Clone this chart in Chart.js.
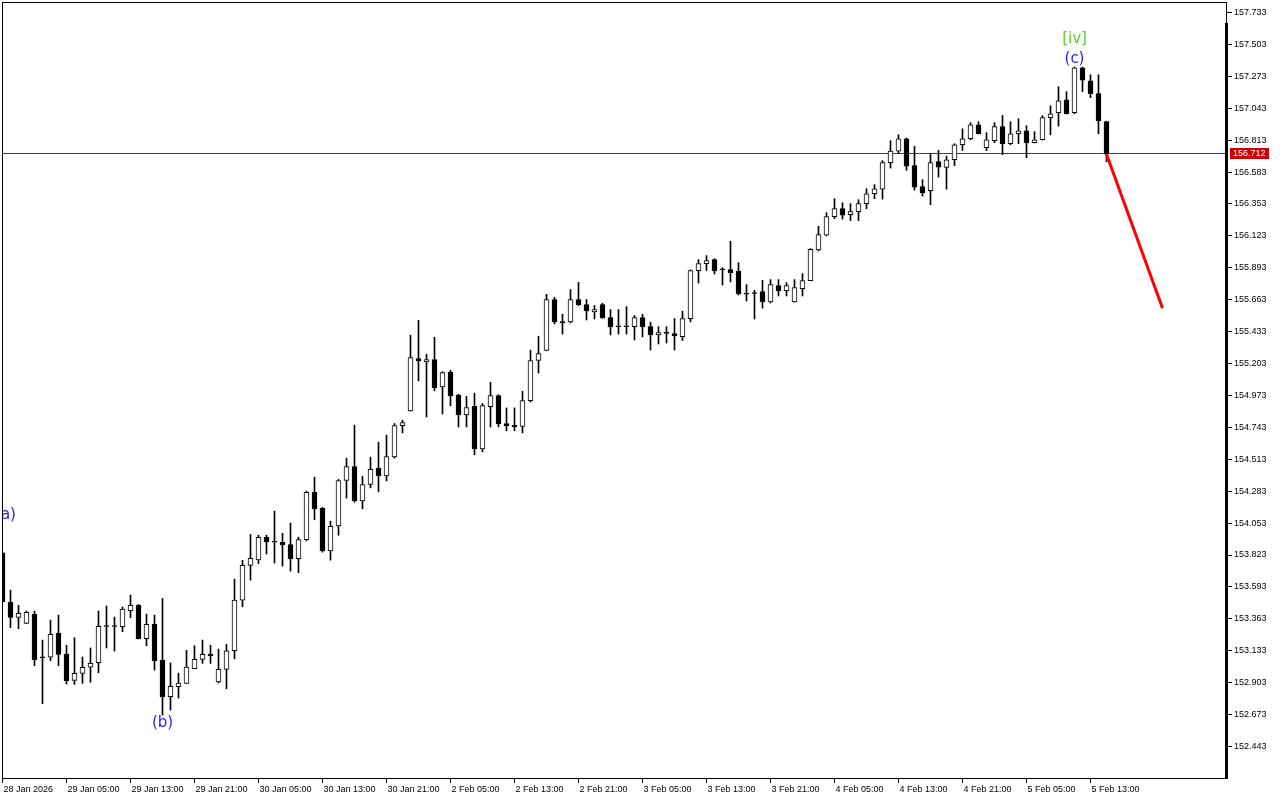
<!DOCTYPE html>
<html><head><meta charset="utf-8">
<script src="https://cdn.jsdelivr.net/npm/chart.js@4.4.1/dist/chart.umd.min.js"></script>
<style>html,body{margin:0;padding:0;background:#fff;overflow:hidden}canvas{display:block}</style>
</head><body>
<canvas id="c" width="1280" height="800"></canvas>
<script>
// ---- tick labels ----
const timeLabels = ['28 Jan 2026','29 Jan 05:00','29 Jan 13:00','29 Jan 21:00','30 Jan 05:00','30 Jan 13:00','30 Jan 21:00','2 Feb 05:00','2 Feb 13:00','2 Feb 21:00','3 Feb 05:00','3 Feb 13:00','3 Feb 21:00','4 Feb 05:00','4 Feb 13:00','4 Feb 21:00','5 Feb 05:00','5 Feb 13:00'];
const timeTickBars = [0,8,16,24,32,40,48,56,64,72,80,88,96,104,112,120,128,136];
const priceTicks = [152.443,152.673,152.903,153.133,153.363,153.593,153.823,154.053,154.283,154.513,154.743,154.973,155.203,155.433,155.663,155.893,156.123,156.353,156.583,156.813,157.043,157.273,157.503,157.733];

// ---- H1 candles (bar index 0..138) ----
const opens = [153.839,153.484,153.374,153.330,153.395,153.085,153.086,153.261,153.109,152.920,
152.970,153.014,153.047,153.310,153.310,153.306,153.421,153.460,153.220,153.325,
153.066,152.802,152.874,152.898,153.004,153.071,153.109,152.908,152.999,153.133,
153.498,153.748,153.788,153.950,153.917,153.914,153.899,153.796,153.933,154.274,
154.159,153.853,154.033,154.360,154.461,154.213,154.331,154.447,154.393,154.530,
154.756,154.862,155.239,155.214,155.232,155.034,155.140,154.975,154.833,154.895,
154.588,154.893,154.972,154.771,154.759,154.749,154.936,155.225,155.297,155.664,
155.505,155.503,155.664,155.628,155.575,155.628,155.534,155.470,155.470,155.469,
155.534,155.469,155.409,155.422,155.419,155.397,155.527,155.873,155.923,155.952,
155.881,155.880,155.868,155.705,155.710,155.722,155.647,155.765,155.729,155.647,
155.743,155.801,156.021,156.129,156.262,156.319,156.276,156.298,156.355,156.427,
156.460,156.651,156.734,156.823,156.629,156.478,156.449,156.658,156.617,156.672,
156.780,156.823,156.924,156.759,156.809,156.910,156.787,156.859,156.881,156.795,
156.816,156.975,157.011,157.104,157.011,157.335,157.241,157.148,156.946];
const highs = [153.844,153.570,153.460,153.419,153.419,153.210,153.354,153.390,153.172,153.227,
153.088,153.153,153.419,153.455,153.376,153.448,153.534,153.466,153.397,153.390,
153.510,153.045,152.972,153.136,153.169,153.210,153.172,153.145,153.179,153.649,
153.784,153.971,153.966,153.966,154.139,153.979,154.053,153.952,154.283,154.384,
154.166,154.067,154.368,154.521,154.759,154.391,154.528,154.636,154.687,154.771,
154.795,155.407,155.515,155.270,155.392,155.144,155.155,154.982,154.967,154.989,
154.915,155.068,154.978,154.883,154.883,155.003,155.299,155.400,155.702,155.680,
155.558,155.736,155.788,155.664,155.621,155.637,155.592,155.592,155.613,155.549,
155.558,155.500,155.469,155.469,155.527,155.580,155.878,155.952,155.981,155.959,
155.894,156.084,155.930,155.772,155.731,155.803,155.808,155.808,155.786,155.808,
155.851,156.031,156.192,156.290,156.391,156.362,156.355,156.384,156.463,156.492,
156.665,156.809,156.852,156.829,156.768,156.528,156.715,156.739,156.698,156.787,
156.895,156.939,156.946,156.867,156.939,156.991,156.946,156.967,156.917,156.874,
156.989,157.061,157.198,157.162,157.340,157.340,157.284,157.284,156.950];
const lows = [153.484,153.299,153.292,153.330,153.025,152.751,153.061,153.025,152.893,152.891,
152.898,152.906,152.975,153.153,153.131,153.270,153.371,153.218,153.169,152.994,
152.670,152.706,152.792,152.898,153.004,153.042,153.042,152.900,152.859,153.075,
153.450,153.642,153.760,153.830,153.765,153.743,153.707,153.695,153.925,154.077,
153.844,153.786,153.966,154.233,154.204,154.156,154.307,154.278,154.357,154.521,
154.703,154.860,155.078,154.818,155.006,154.840,154.898,154.746,154.746,154.545,
154.566,154.746,154.746,154.718,154.718,154.703,154.926,155.135,155.295,155.488,
155.416,155.495,155.621,155.517,155.524,155.529,155.409,155.416,155.416,155.373,
155.395,155.301,155.344,155.351,155.301,155.369,155.503,155.783,155.873,155.848,
155.769,155.791,155.697,155.654,155.524,155.603,155.639,155.690,155.690,155.645,
155.690,155.799,156.014,156.122,156.247,156.244,156.233,156.233,156.319,156.391,
156.388,156.612,156.715,156.595,156.453,156.410,156.348,156.547,156.460,156.629,
156.739,156.816,156.857,156.737,156.795,156.708,156.780,156.787,156.687,156.793,
156.814,156.852,156.914,157.001,157.003,157.162,157.119,156.859,156.658];
const closes = [153.486,153.374,153.402,153.410,153.068,153.082,153.251,153.107,152.917,152.970,
153.014,153.042,153.309,153.308,153.308,153.433,153.460,153.220,153.323,153.059,
152.800,152.877,152.900,153.016,153.071,153.107,153.097,152.999,153.133,153.498,
153.748,153.799,153.950,153.918,153.915,153.896,153.796,153.935,154.274,154.156,
153.853,154.029,154.360,154.461,154.213,154.331,154.440,154.393,154.533,154.756,
154.778,155.246,155.222,155.232,155.027,155.138,154.970,154.833,154.886,154.588,
154.900,154.972,154.768,154.754,154.746,154.936,155.225,155.275,155.664,155.503,
155.495,155.664,155.628,155.582,155.592,155.531,155.467,155.468,155.468,155.534,
155.467,155.409,155.426,155.420,155.402,155.527,155.873,155.923,155.945,155.871,
155.879,155.858,155.704,155.703,155.708,155.647,155.772,155.726,155.765,155.750,
155.801,156.026,156.132,156.262,156.319,156.273,156.298,156.355,156.427,156.463,
156.651,156.734,156.823,156.626,156.475,156.432,156.651,156.619,156.672,156.780,
156.823,156.924,156.859,156.816,156.910,156.787,156.859,156.881,156.793,156.816,
156.975,157.003,157.097,157.003,157.335,157.245,157.148,156.953,156.712];

// ---- current price, forecast, wave labels ----
const currentPrice = 156.712;
const forecastBars = [138, 145];
const forecastPrices = [156.712, 155.602];
const waveTexts = ['(a)', '(b)', '(c)', '[iv]'];
const waveBars = [0.375, 20, 134, 134];
const wavePrices = [154.113, 152.611, 157.398, 157.538];
const waveColors = ['#1f1fff', '#1f1fff', '#1f1fff', '#5ccc2e'];

// ---- build datasets from arrays ----
const barIdx = opens.map((_, i) => i);
const bodyData = barIdx.map(i => ({x: i, y: [Math.min(opens[i], closes[i]), Math.max(opens[i], closes[i])]}));
const wickData = barIdx.map(i => ({x: i, y: [lows[i], highs[i]]}));
const bodyColors = barIdx.map(i => closes[i] > opens[i] ? '#ffffff' : '#000000');
const forecastData = forecastBars.map((b, i) => ({x: b, y: forecastPrices[i]}));

const PX_PER_UNIT = 138.75;
const yMax = priceTicks[priceTicks.length - 1] + 10.5 / PX_PER_UNIT;
const yMin = yMax - 776 / PX_PER_UNIT;

const FONT = 'Liberation Sans';

const overlay = {
  id: 'overlay',
  beforeDatasetsDraw(chart) {
    const ctx = chart.ctx, a = chart.chartArea, ys = chart.scales.y;
    const yy = Math.round(ys.getPixelForValue(currentPrice)) - 0.5;
    ctx.save();
    ctx.strokeStyle = '#a81010';
    ctx.lineWidth = 1;
    ctx.beginPath(); ctx.moveTo(a.left, yy); ctx.lineTo(a.right, yy); ctx.stroke();
    ctx.restore();
  },
  afterDraw(chart) {
    const ctx = chart.ctx, a = chart.chartArea, xs = chart.scales.x, ys = chart.scales.y;
    ctx.save();
    // wave labels
    ctx.beginPath(); ctx.rect(a.left, a.top, a.right - a.left, a.bottom - a.top); ctx.clip();
    ctx.font = '15px "DejaVu Sans"';
    ctx.textAlign = 'center'; ctx.textBaseline = 'middle';
    waveTexts.forEach((t, i) => {
      ctx.fillStyle = waveColors[i];
      ctx.fillText(t, xs.getPixelForValue(waveBars[i]), ys.getPixelForValue(wavePrices[i]));
    });
    ctx.restore();
    // frame
    ctx.save();
    ctx.fillStyle = '#000';
    ctx.fillRect(2, 2, 1225, 1);
    ctx.fillRect(2, 2, 1, 777);
    ctx.fillRect(2, 778, 1226, 1);
    ctx.fillRect(1226, 2, 1, 22);
    ctx.fillRect(1225, 23, 3, 756);
    // price tag
    const yy = Math.round(ys.getPixelForValue(currentPrice)) - 0.5;
    ctx.fillStyle = '#cc0000';
    ctx.fillRect(1230, Math.round(yy - 5.5), 39, 11);
    ctx.fillStyle = '#ffffff';
    ctx.font = '9px "' + FONT + '"';
    ctx.textAlign = 'left'; ctx.textBaseline = 'middle';
    ctx.fillText(currentPrice.toFixed(3), 1233, yy);
    ctx.restore();
  }
};

Chart.defaults.font.family = FONT;
new Chart(document.getElementById('c'), {
  type: 'bar',
  data: {
    datasets: [
      {type: 'line', data: forecastData, borderColor: '#ff0000', borderWidth: 3, pointRadius: 0, tension: 0, order: -1, clip: 0},
      {data: bodyData, backgroundColor: bodyColors, borderColor: '#000000', borderWidth: 1, borderSkipped: false,
       barThickness: 5, grouped: false, minBarLength: 1, order: 0, clip: 0},
      {data: wickData, backgroundColor: '#000000', borderWidth: 0, barThickness: 1, grouped: false, order: 1, clip: 0}
    ]
  },
  options: {
    responsive: false, devicePixelRatio: 1, animation: false,
    layout: {padding: {left: 2, top: 2, right: 0, bottom: 0}},
    plugins: {legend: {display: false}, tooltip: {enabled: false}},
    scales: {
      x: {
        type: 'linear', position: 'bottom', min: -0.0625, max: 152.9375, bounds: 'data', offset: false,
        afterBuildTicks: s => { s.ticks = timeTickBars.map(v => ({value: v})); },
        afterFit: s => { s.height = 22; s.paddingLeft = 0; s.paddingRight = 0; },
        ticks: {callback: (v, i) => timeLabels[i], autoSkip: false, maxRotation: 0, minRotation: 0,
                align: 'start', labelOffset: 1, padding: 1, color: '#000', font: {size: 9, family: FONT}},
        grid: {display: true, offset: false, drawOnChartArea: false, drawTicks: true, tickLength: 5, color: '#000', lineWidth: 1},
        border: {display: false}
      },
      y: {
        type: 'linear', position: 'right', min: yMin, max: yMax, bounds: 'data', beginAtZero: false,
        afterBuildTicks: s => { s.ticks = priceTicks.map(v => ({value: v})); },
        afterFit: s => { s.width = 54; s.paddingTop = 0; s.paddingBottom = 0; },
        ticks: {callback: v => Number(v).toFixed(3), autoSkip: false, padding: 2, color: '#000', font: {size: 9, family: FONT}},
        grid: {display: true, drawOnChartArea: false, drawTicks: true, tickLength: 6, color: '#000', lineWidth: 1},
        border: {display: false}
      }
    }
  },
  plugins: [overlay]
});
</script>
</body></html>
